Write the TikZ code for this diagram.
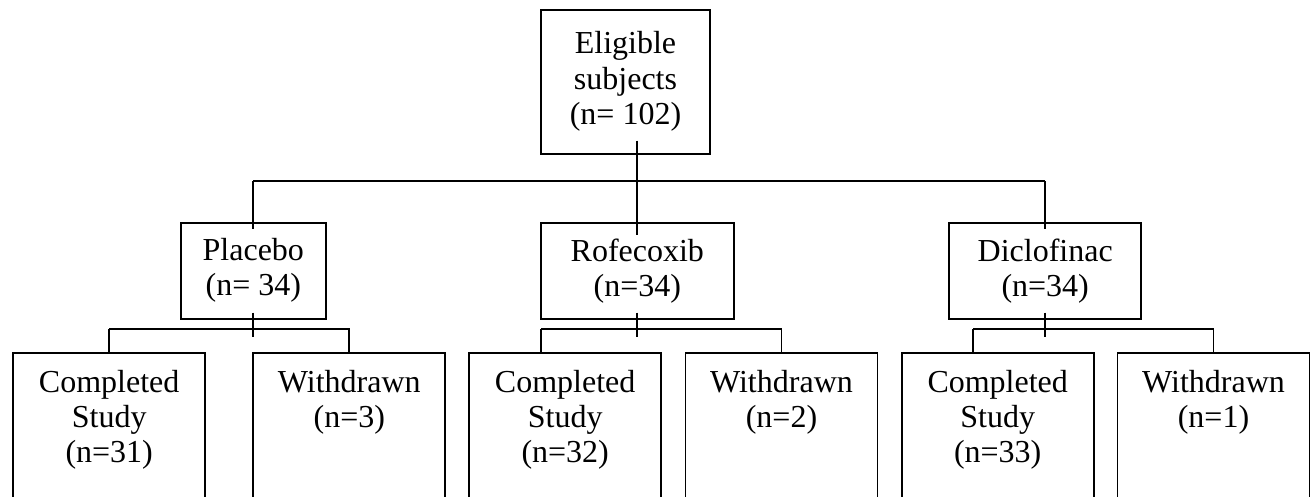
\documentclass[tikz,border=0pt]{standalone}
\usepackage{fontspec}
\setmainfont{Liberation Serif}
\usetikzlibrary{positioning}
\begin{document}
\begin{tikzpicture}[x=1pt, y=-1pt, line width=1.8pt, font=\fontsize{32}{35}\selectfont,
		box/.style={draw, inner sep=0pt, align=center, minimum height=96pt},
		leaf/.style={draw, inner sep=0pt, minimum width=192pt, minimum height=190pt},
		txt/.style={inner sep=0pt, align=center}]
				\useasboundingbox (0,0) rectangle (1314,496);
				\clip (0,0) rectangle (1314,496);
				\node[box, minimum width=168.4pt, minimum height=144pt, font=\fontsize{32}{35.5}\selectfont] (E) at (625.5,81.7) {Eligible\\subjects\\(n= 102)};
				\node[box, minimum width=144.7pt] (P) at (253.3,270.7) {Placebo\\(n= 34)};
				\node[box, minimum width=192.7pt] (R) at (637.3,270.7) {Rofecoxib\\(n=34)};
				\node[box, minimum width=192.3pt] (D) at (1045.2,270.7) {Diclofinac\\(n=34)};
				\node[leaf] (PC) at (109.2,448.3) {};
				\node[leaf] (PW) at (349.3,448.3) {};
				\node[leaf] (RC) at (565.2,448.3) {};
				\node[leaf] (RW) at (781.5,448.3) {};
				\node[leaf] (DC) at (997.7,448.3) {};
				\node[leaf] (DW) at (1213.5,448.3) {};
				\node[txt, below=17pt of PC.north] (PCt) {Completed\\Study\\(n=31)};
				\node[txt, below=17pt of PW.north] (PWt) {Withdrawn\\(n=3)};
				\node[txt, below=17pt of RC.north] (RCt) {Completed\\Study\\(n=32)};
				\node[txt, below=17pt of RW.north] (RWt) {Withdrawn\\(n=2)};
				\node[txt, below=17pt of DC.north] (DCt) {Completed\\Study\\(n=33)};
				\node[txt, below=17pt of DW.north] (DWt) {Withdrawn\\(n=1)};
				\coordinate (B) at (637.3,181.3);
				\coordinate (B1) at (253.3,329.3);
				\coordinate (B2) at (541,329.3);
				\coordinate (B3) at (973.3,329.3);
				%\draw[gray!10] (0,0) grid (1314,496);
				\draw[shorten <=-14pt, shorten >=-13.3pt] (E.south -| R.north) -- (R.north);
				\draw (B -| P.north) -- (B -| D.north);
				\draw[shorten >=-7.3pt] (B -| P.north) -- (P.north);
				\draw[shorten >=-7.3pt] (B -| D.north) -- (D.north);
				\draw[shorten <=-7pt, shorten >=-7.4pt] (P.south) -- (P.south |- B1);
				\draw[shorten <=-7pt, shorten >=-7.4pt] (R.south) -- (R.south |- B1);
				\draw[shorten <=-7pt, shorten >=-7.4pt] (D.south) -- (D.south |- B1);
				\draw (B1 -| PC.north) -- (PC.north) (B1 -| PC.north) -- (B1 -| PW.north) -- (PW.north);
				\draw (B2) -- (B2 |- RC.north) (B2) -- (B2 -| RW.north) -- (RW.north);
				\draw (B3) -- (B3 |- DC.north) (B3) -- (B3 -| DW.north) -- (DW.north);
			\end{tikzpicture}
\end{document}
